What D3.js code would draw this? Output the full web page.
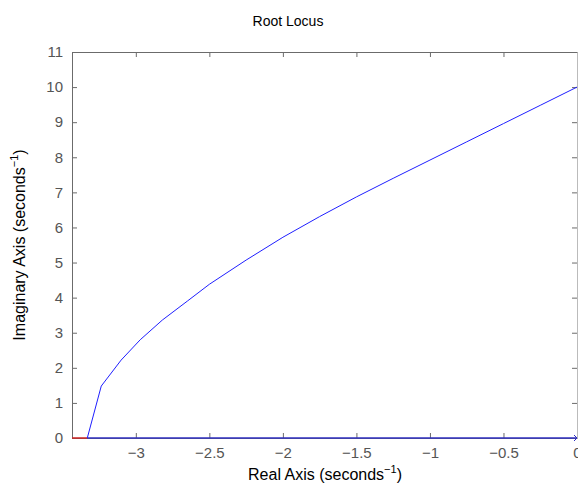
<!DOCTYPE html>
<html>
<head>
<meta charset="utf-8">
<script src="https://cdn.jsdelivr.net/npm/d3@7"></script>
<style>
body { margin: 0; background: #fff; }
text { font-family: "Liberation Sans", Arial, sans-serif; }
</style>
</head>
<body>
<script>
// locus branch going up (real, imag)
var branchReal = [-3.33, -3.235, -3.10, -2.97, -2.82, -2.65, -2.5, -2.25, -2.0, -1.75, -1.5, -1.25, -1.0, -0.75, -0.5, -0.25, 0];
var branchImag = [0, 1.48, 2.22, 2.8, 3.36, 3.9, 4.38, 5.07, 5.72, 6.31, 6.87, 7.4, 7.92, 8.44, 8.96, 9.48, 10];
// real axis segments
var redSeg = [-3.434, -3.33];
var blueSeg = [-3.33, 0];
var xTicks = [-3, -2.5, -2, -1.5, -1, -0.5, 0];
var yTicks = [0, 1, 2, 3, 4, 5, 6, 7, 8, 9, 10, 11];

var width = 578, height = 486;
var plotLeft = 72, plotRight = 577, plotTop = 52, plotBottom = 438;

var svg = d3.select("body").append("svg")
.attr("width", width)
.attr("height", height);

var x = d3.scaleLinear().domain([-3.434, 0]).range([plotLeft, plotRight]);
var y = d3.scaleLinear().domain([0, 11]).range([plotBottom, plotTop]);

var fmt = function (d) { return d3.format("")(d).replace("-", "\u2212"); };

var axisColor = "#6b6b6b";

// axes with ticks pointing inward
var xAxis = svg.append("g")
.attr("transform", "translate(0," + plotBottom + ")")
.call(d3.axisBottom(x).tickValues(xTicks).tickSize(-5).tickPadding(9).tickFormat(fmt));
var yAxis = svg.append("g")
.attr("transform", "translate(" + plotLeft + ",0)")
.call(d3.axisLeft(y).tickValues(yTicks).tickSize(-5).tickPadding(9));
var topAxis = svg.append("g")
.attr("transform", "translate(0," + plotTop + ")")
.call(d3.axisTop(x).tickValues(xTicks).tickSize(-5).tickFormat(""));
var rightAxis = svg.append("g")
.attr("transform", "translate(" + plotRight + ",0)")
.call(d3.axisRight(y).tickValues(yTicks).tickSize(-5).tickFormat(""));

[xAxis, yAxis, topAxis, rightAxis].forEach(function (g) {
  g.select(".domain").attr("stroke", axisColor).attr("stroke-width", 1);
  g.selectAll(".tick line").attr("stroke", axisColor);
  g.selectAll(".tick text").attr("fill", "#555").style("font-size", "15px");
});
rightAxis.select(".domain").attr("stroke", "#bbb");

// real axis segments
svg.append("line")
.attr("x1", x(redSeg[0])).attr("x2", x(redSeg[1]))
.attr("y1", y(0)).attr("y2", y(0))
.attr("stroke", "#cc2222").attr("stroke-width", 1.5);
svg.append("line")
.attr("x1", x(blueSeg[0])).attr("x2", x(blueSeg[1]))
.attr("y1", y(0)).attr("y2", y(0))
.attr("stroke", "#2f2fc0").attr("stroke-width", 1.5);

// branch
var pts = branchReal.map(function (d, i) { return [d, branchImag[i]]; });
svg.append("path")
.datum(pts)
.attr("fill", "none")
.attr("stroke", "#1f1fff")
.attr("stroke-width", 1)
.attr("d", d3.line().x(function (d) { return x(d[0]); }).y(function (d) { return y(d[1]); }));

// small arrowhead at the end of the real axis branch
svg.append("path")
.attr("d", "M" + (x(0) - 3) + "," + (y(0) - 3) + "L" + x(0) + "," + y(0) + "L" + (x(0) - 3) + "," + (y(0) + 3))
.attr("fill", "none").attr("stroke", "#2f2fc0").attr("stroke-width", 1);

// titles
svg.append("text")
.attr("x", 288).attr("y", 26)
.attr("text-anchor", "middle")
.style("font-size", "14px")
.text("Root Locus");

var xl = svg.append("text")
.attr("x", 325).attr("y", 480)
.attr("text-anchor", "middle")
.style("font-size", "16px");
xl.append("tspan").text("Real Axis (seconds");
xl.append("tspan").attr("dy", -7).style("font-size", "11px").text("\u22121");
xl.append("tspan").attr("dy", 7).text(")");

var yl = svg.append("text")
.attr("transform", "translate(25," + 245 + ") rotate(-90)")
.attr("text-anchor", "middle")
.style("font-size", "16px");
yl.append("tspan").text("Imaginary Axis (seconds");
yl.append("tspan").attr("dy", -7).style("font-size", "11px").text("\u22121");
yl.append("tspan").attr("dy", 7).text(")");
</script>
</body>
</html>
